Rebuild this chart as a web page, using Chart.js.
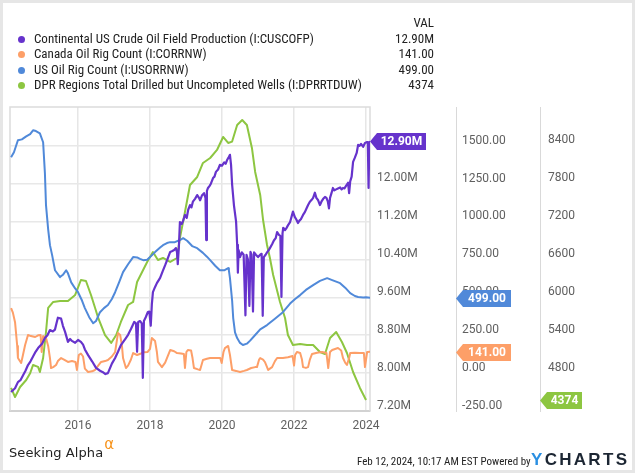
<!DOCTYPE html>
<html><head><meta charset="utf-8">
<script src="https://cdn.jsdelivr.net/npm/chart.js@4.4.1/dist/chart.umd.min.js"></script>
<style>
html,body{margin:0;padding:0;background:#fff;}
#wrap{position:relative;width:635px;height:473px;overflow:hidden;background:#fff;}
#frame{position:absolute;left:0;top:0;width:635px;height:473px;box-sizing:border-box;border:3px solid #e6e6e6;pointer-events:none;}
canvas{position:absolute;left:0;top:0;}
.leg{position:absolute;font-family:"Liberation Sans Narrow","Roboto Condensed",Roboto,sans-serif;font-size:13px;color:#222;line-height:15px;white-space:nowrap;}
.dot{position:absolute;width:7px;height:7px;border-radius:50%;}
.val{text-align:right;}
#sa{position:absolute;left:9px;top:445px;font-family:"DejaVu Sans",sans-serif;font-size:13px;color:#222;letter-spacing:0.1px;}
#sa sup{color:#f7941d;font-size:15px;position:relative;top:-6px;vertical-align:top;line-height:10px;margin-left:1px;}
#ts{position:absolute;left:357px;top:455px;font-family:"Liberation Sans Narrow","Roboto Condensed",sans-serif;font-size:11px;color:#222;white-space:nowrap;}
#yc{position:absolute;left:531px;top:450px;font-family:"Liberation Sans","DejaVu Sans",sans-serif;font-weight:bold;font-size:17px;letter-spacing:2.3px;color:#1c2633;white-space:nowrap;}
#yc b{color:#2a8fe2;}
</style></head>
<body>
<div id="wrap">
<canvas id="c" width="635" height="473"></canvas>
<div id="legend"></div>
<div id="sa">Seeking Alpha<sup>α</sup></div>
<div id="ts">Feb 12, 2024, 10:17 AM EST Powered by</div>
<div id="yc"><b>Y</b>CHARTS</div>
<div id="frame"></div>
</div>
<script>
// ---------------- DATA ----------------
const seriesNames = [
  "Continental US Crude Oil Field Production (I:CUSCOFP)",
  "Canada Oil Rig Count (I:CORRNW)",
  "US Oil Rig Count (I:USORRNW)",
  "DPR Regions Total Drilled but Uncompleted Wells (I:DPRRTDUW)"
];
const xTickYears = [2016, 2018, 2020, 2022, 2024];
const prodTicks = [7.2, 8.0, 8.8, 9.6, 10.4, 11.2, 12.0, 12.8];
const rigTicks = [-250, 0, 250, 500, 750, 1000, 1250, 1500];
const ducTicks = [4200, 4800, 5400, 6000, 6600, 7200, 7800, 8400];

// Continental US crude production (millions, date in decimal years)
const prodYears = [2014.14,2014.25,2014.33,2014.40,2014.47,2014.54,2014.61,2014.68,2014.75,2014.82,2014.89,2015.00,2015.08,2015.15,2015.22,2015.30,2015.36,2015.40,2015.44,2015.53,2015.58,2015.64,2015.72,2015.78,2015.83,2015.92,2016.00,2016.08,2016.14,2016.19,2016.28,2016.39,2016.50,2016.61,2016.69,2016.76,2016.83,2016.94,2017.03,2017.11,2017.19,2017.31,2017.39,2017.47,2017.56,2017.61,2017.64,2017.67,2017.72,2017.77,2017.80,2017.83,2017.88,2017.94,2017.98,2018.02,2018.05,2018.08,2018.14,2018.19,2018.28,2018.35,2018.42,2018.49,2018.56,2018.62,2018.67,2018.72,2018.75,2018.77,2018.80,2018.83,2018.88,2018.92,2018.97,2019.02,2019.06,2019.11,2019.15,2019.19,2019.25,2019.31,2019.36,2019.39,2019.44,2019.50,2019.54,2019.56,2019.58,2019.61,2019.65,2019.69,2019.75,2019.79,2019.83,2019.89,2019.94,2020.00,2020.06,2020.10,2020.14,2020.18,2020.22,2020.25,2020.28,2020.33,2020.39,2020.42,2020.44,2020.46,2020.50,2020.55,2020.60,2020.65,2020.68,2020.72,2020.76,2020.79,2020.82,2020.86,2020.89,2020.94,2021.00,2021.06,2021.10,2021.13,2021.16,2021.21,2021.25,2021.30,2021.33,2021.39,2021.44,2021.49,2021.53,2021.58,2021.62,2021.65,2021.68,2021.70,2021.75,2021.78,2021.83,2021.89,2021.93,2021.97,2022.02,2022.06,2022.11,2022.15,2022.19,2022.25,2022.30,2022.33,2022.39,2022.44,2022.49,2022.53,2022.58,2022.62,2022.67,2022.72,2022.76,2022.81,2022.86,2022.90,2022.94,2022.97,2023.00,2023.04,2023.08,2023.12,2023.17,2023.22,2023.28,2023.32,2023.36,2023.40,2023.44,2023.50,2023.53,2023.56,2023.60,2023.64,2023.69,2023.74,2023.78,2023.82,2023.86,2023.92,2023.97,2024.03,2024.05,2024.07,2024.09,2024.11];
const prodValues = [7.60,7.68,7.81,7.85,7.95,8.05,8.17,8.25,8.35,8.45,8.53,8.62,8.74,8.80,8.91,8.88,8.92,9.05,9.17,9.15,9.00,8.87,8.66,8.72,8.68,8.64,8.70,8.66,8.60,8.50,8.38,8.25,8.11,8.05,8.02,7.98,8.00,8.20,8.32,8.45,8.59,8.72,8.81,8.93,9.08,9.05,8.45,9.08,9.10,9.05,7.90,9.10,9.18,9.29,9.30,9.00,9.45,9.71,9.82,9.90,10.01,10.15,10.28,10.42,10.56,10.58,10.60,10.64,10.55,10.30,10.65,11.19,11.15,11.22,11.34,11.28,11.45,11.55,11.50,11.62,11.68,11.76,11.70,11.65,11.75,11.80,11.70,10.81,11.85,11.91,11.95,12.00,12.12,12.15,12.25,12.30,12.40,12.38,12.45,12.42,12.50,12.55,12.61,12.40,11.98,11.55,11.20,10.71,10.12,10.60,10.45,10.55,10.50,9.22,10.50,10.40,9.42,10.56,10.50,9.30,10.55,10.50,10.45,10.50,10.52,9.21,10.45,10.50,10.55,10.60,10.64,10.72,10.80,10.85,10.98,10.92,10.90,9.61,10.95,11.07,11.02,11.05,11.12,11.19,11.30,11.41,11.30,11.25,11.17,11.22,11.25,11.34,11.40,11.45,11.55,11.62,11.66,11.70,11.81,11.70,11.65,11.55,11.62,11.68,11.72,11.70,11.62,11.48,11.70,11.80,11.91,11.86,11.88,11.90,11.92,11.88,11.91,11.90,11.95,12.02,11.80,12.05,12.15,12.46,12.55,12.65,12.82,12.80,12.84,12.78,12.86,12.88,12.85,11.91,12.85,12.90];

// Canada oil rig count
const canYears = [2014.14,2014.19,2014.25,2014.31,2014.33,2014.42,2014.47,2014.53,2014.61,2014.69,2014.81,2014.89,2014.96,2014.99,2015.03,2015.11,2015.17,2015.22,2015.25,2015.31,2015.39,2015.44,2015.53,2015.61,2015.72,2015.83,2015.93,2015.97,2016.02,2016.08,2016.14,2016.19,2016.28,2016.39,2016.47,2016.56,2016.64,2016.75,2016.83,2016.94,2017.03,2017.11,2017.17,2017.22,2017.25,2017.33,2017.39,2017.47,2017.53,2017.64,2017.75,2017.83,2017.93,2018.00,2018.05,2018.14,2018.19,2018.22,2018.33,2018.42,2018.47,2018.56,2018.67,2018.75,2018.86,2018.94,2018.97,2019.01,2019.05,2019.14,2019.18,2019.22,2019.33,2019.39,2019.47,2019.58,2019.67,2019.81,2019.95,2019.99,2020.04,2020.08,2020.17,2020.22,2020.28,2020.39,2020.50,2020.61,2020.69,2020.81,2020.92,2020.97,2021.03,2021.06,2021.14,2021.19,2021.25,2021.28,2021.33,2021.39,2021.47,2021.53,2021.69,2021.83,2021.96,2022.00,2022.03,2022.08,2022.17,2022.22,2022.25,2022.33,2022.39,2022.44,2022.50,2022.64,2022.78,2022.90,2022.95,2023.00,2023.06,2023.14,2023.22,2023.31,2023.36,2023.42,2023.47,2023.53,2023.56,2023.69,2023.83,2023.94,2023.97,2024.03,2024.11];
const canValues = [430,400,337,180,100,67,120,186,252,245,239,250,252,140,245,232,180,100,34,40,54,80,100,90,74,80,74,21,120,130,110,30,8,12,21,50,74,80,87,110,140,265,252,180,100,34,50,90,133,120,130,138,140,160,232,212,140,74,40,70,100,153,145,133,130,127,34,140,153,150,100,34,25,21,87,95,100,100,100,67,140,166,180,120,21,15,8,15,21,34,40,40,90,100,90,74,40,21,30,40,80,100,100,105,113,50,120,140,133,90,40,35,40,90,127,135,140,133,34,140,153,160,166,150,100,70,54,100,133,135,133,133,40,140,141];

// US oil rig count
const usYears = [2014.14,2014.22,2014.33,2014.44,2014.56,2014.67,2014.75,2014.83,2014.94,2015.03,2015.08,2015.11,2015.17,2015.22,2015.28,2015.36,2015.50,2015.58,2015.67,2015.72,2015.81,2015.92,2016.00,2016.11,2016.19,2016.31,2016.42,2016.50,2016.61,2016.72,2016.83,2016.94,2017.03,2017.14,2017.25,2017.39,2017.53,2017.64,2017.72,2017.81,2017.92,2018.00,2018.14,2018.28,2018.36,2018.47,2018.56,2018.69,2018.83,2018.92,2019.03,2019.17,2019.31,2019.47,2019.58,2019.67,2019.81,2019.94,2020.06,2020.17,2020.19,2020.22,2020.28,2020.31,2020.36,2020.42,2020.50,2020.58,2020.69,2020.78,2020.92,2021.06,2021.25,2021.47,2021.69,2021.89,2022.03,2022.17,2022.33,2022.53,2022.72,2022.92,2023.06,2023.17,2023.28,2023.42,2023.56,2023.69,2023.78,2023.92,2024.00,2024.11];
const usValues = [1427,1460,1539,1545,1565,1580,1605,1600,1585,1526,1320,1110,950,846,780,680,635,650,680,660,600,560,535,480,430,370,330,345,403,430,450,490,535,600,668,720,767,765,755,747,750,767,800,830,846,860,866,866,880,892,875,840,826,795,770,747,710,680,680,694,680,628,480,364,270,232,200,186,195,215,252,290,318,360,403,460,490,516,550,582,610,628,615,605,595,565,529,510,503,500,501,499];

// DPR regions drilled but uncompleted wells
const ducYears = [2014.14,2014.25,2014.39,2014.56,2014.67,2014.75,2014.89,2014.94,2015.03,2015.11,2015.17,2015.31,2015.50,2015.72,2015.92,2016.08,2016.22,2016.36,2016.47,2016.56,2016.75,2016.92,2017.06,2017.19,2017.39,2017.53,2017.64,2017.78,2017.92,2018.00,2018.08,2018.22,2018.36,2018.56,2018.75,2018.83,2018.97,2019.11,2019.31,2019.47,2019.67,2019.86,2020.03,2020.17,2020.28,2020.42,2020.56,2020.69,2020.83,2020.92,2021.06,2021.14,2021.25,2021.33,2021.42,2021.61,2021.75,2021.83,2021.97,2022.17,2022.36,2022.53,2022.72,2022.86,2023.00,2023.17,2023.33,2023.47,2023.64,2023.83,2024.00];
const ducValues = [4565,4422,4580,4691,4800,4929,4900,4818,5040,5452,5833,5928,5944,5944,6039,6276,6260,6039,5840,5674,5404,5278,5404,5611,5880,5928,6245,6403,6562,6640,6720,6593,6625,6562,6625,6942,7354,7782,7909,8131,8210,8337,8543,8448,8470,8733,8812,8733,8369,7988,7624,7227,6831,6625,6356,5928,5674,5404,5246,5262,5246,5246,5135,5103,5357,5452,5294,5119,4818,4565,4374];

// ---------------- STYLE ----------------
const colors = ["#6633cc", "#fd9f68", "#5089d9", "#8dc641"];
const tickColor = "#606060";
const tickFont = {family: "Roboto", size: 12};

function pts(xs, ys){ return xs.map((x,i)=>({x:x, y:ys[i]})); }
const last = a => a[a.length-1];
const legendVals = [
  last(prodValues).toFixed(2) + "M",
  last(canValues).toFixed(2),
  last(usValues).toFixed(2),
  String(last(ducValues))
];

// legend (HTML text)
(function(){
  const L = document.getElementById('legend');
  const rows = [39, 54, 70, 85];
  let h = '<div class="leg val" style="right:201px;top:15px;">VAL</div>';
  seriesNames.forEach((n,i)=>{
    const cy = rows[i];
    h += '<div class="dot" style="left:18px;top:'+(cy-3.5)+'px;background:'+colors[i]+'"></div>';
    h += '<div class="leg" style="left:34px;top:'+(cy-8)+'px;">'+n+'</div>';
    h += '<div class="leg val" style="right:201px;top:'+(cy-8)+'px;">'+legendVals[i]+'</div>';
  });
  L.innerHTML = h;
})();

const frameBox = {
  id: 'frameBox',
  beforeDatasetsDraw(chart){
    const {ctx, chartArea:a} = chart;
    ctx.save();
    ctx.strokeStyle = '#dcdcdc';
    ctx.lineWidth = 1.5;
    ctx.beginPath();
    ctx.moveTo(a.left, a.bottom); ctx.lineTo(a.left, a.top); ctx.lineTo(a.right, a.top); ctx.lineTo(a.right, a.bottom);
    ctx.stroke();
    ctx.restore();
  }
};

const tags = {
  id: 'tags',
  afterDraw(chart){
    const ctx = chart.ctx;
    const items = [
      {scale:'y',  v: last(prodValues), t: legendVals[0], c: colors[0], w: 56},
      {scale:'y1', v: last(usValues),   t: legendVals[2], c: colors[2], w: 55},
      {scale:'y1', v: last(canValues),  t: legendVals[1], c: colors[1], w: 55},
      {scale:'y2', v: last(ducValues),  t: legendVals[3], c: colors[3], w: 42}
    ];
    items.forEach(it=>{
      const s = chart.scales[it.scale];
      const x0 = s.left, y = Math.round(s.getPixelForValue(it.v)) + 0.5, hh = 8.5;
      ctx.save();
      ctx.fillStyle = it.c;
      ctx.beginPath();
      ctx.moveTo(x0, y);
      ctx.lineTo(x0+7, y-hh);
      ctx.lineTo(x0+it.w, y-hh);
      ctx.lineTo(x0+it.w, y+hh);
      ctx.lineTo(x0+7, y+hh);
      ctx.closePath();
      ctx.fill();
      ctx.fillStyle = '#fff';
      ctx.font = 'bold 12px Roboto';
      ctx.textAlign = 'center';
      ctx.textBaseline = 'middle';
      ctx.fillText(it.t, x0 + 7 + (it.w-7)/2, y+0.5);
      ctx.restore();
    });
  }
};

function fixedTicks(list){ return function(scale){ scale.ticks = list.map(v=>({value:v})); }; }

new Chart(document.getElementById('c'), {
  type: 'line',
  data: {
    datasets: [
      {label: seriesNames[0], data: pts(prodYears, prodValues), yAxisID:'y',  borderColor: colors[0], borderWidth: 2.2},
      {label: seriesNames[1], data: pts(canYears, canValues),   yAxisID:'y1', borderColor: colors[1], borderWidth: 2},
      {label: seriesNames[2], data: pts(usYears, usValues),     yAxisID:'y1', borderColor: colors[2], borderWidth: 2},
      {label: seriesNames[3], data: pts(ducYears, ducValues),   yAxisID:'y2', borderColor: colors[3], borderWidth: 2}
    ]
  },
  options: {
    responsive: false,
    animation: false,
    devicePixelRatio: 1,
    layout: {padding: {left: 10, top: 107, right: 0, bottom: 0}},
    elements: {point: {radius: 0}, line: {tension: 0, fill: false, borderJoinStyle: 'round'}},
    plugins: {legend: {display: false}, tooltip: {enabled: false}},
    scales: {
      x: {
        type: 'linear', position: 'bottom', min: 2014.11, max: 2024.11,
        afterBuildTicks: fixedTicks(xTickYears),
        afterFit: s => { s.height = 62; },
        grid: {color: '#e6e6e6', lineWidth: 1.5, drawTicks: false},
        border: {display: true, color: '#d2d2d2', width: 2},
        ticks: {color: tickColor, font: tickFont, padding: 8, maxRotation: 0, autoSkip: false, callback: v => String(v)}
      },
      y: {
        type: 'linear', position: 'right', min: 7.2, max: 13.62,
        afterBuildTicks: fixedTicks(prodTicks),
        afterFit: s => { s.width = 86; },
        grid: {color: '#e8e8e8', lineWidth: 1.5, drawTicks: false},
        border: {display: false},
        ticks: {color: tickColor, font: tickFont, padding: 7, labelOffset: -5.5, callback: v => v.toFixed(2) + 'M'}
      },
      y1: {
        type: 'linear', position: 'right', min: -250, max: 1759,
        afterBuildTicks: fixedTicks(rigTicks),
        afterFit: s => { s.width = 84; },
        grid: {drawOnChartArea: false, drawTicks: false},
        border: {display: true, color: '#d9d9d9', width: 1},
        ticks: {color: tickColor, font: tickFont, padding: 6, labelOffset: -5.5, callback: v => v.toFixed(2)}
      },
      y2: {
        type: 'linear', position: 'right', min: 4200, max: 9018,
        afterBuildTicks: fixedTicks(ducTicks),
        afterFit: s => { s.width = 95; },
        grid: {drawOnChartArea: false, drawTicks: false},
        border: {display: true, color: '#d9d9d9', width: 1},
        ticks: {color: tickColor, font: tickFont, padding: 8, labelOffset: -5.5, callback: v => String(v)}
      }
    }
  },
  plugins: [frameBox, tags]
});
</script>
</body></html>
